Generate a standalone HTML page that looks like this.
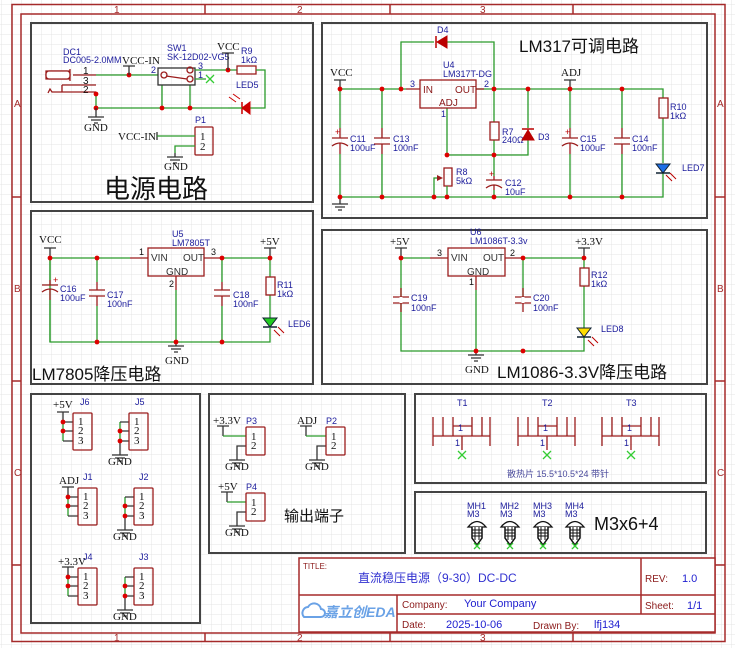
<!DOCTYPE html>
<html><head><meta charset="utf-8"><style>
html,body{margin:0;padding:0;background:#fff}
svg{display:block}
.w{stroke:#2a9a2a;stroke-width:1.3;fill:none}
.r{stroke:#9b1c1c;stroke-width:1.3;fill:none}
.k{stroke:#333;stroke-width:1.3;fill:none}
.p{stroke:#444;stroke-width:2;fill:none}
.f{stroke:#a52a2a;stroke-width:1.5;fill:none}
.b{font-family:"Liberation Sans",sans-serif;font-size:9px;fill:#1c1c9c}
.n{font-family:"Liberation Serif",serif;font-size:11px;fill:#111}
.d{font-family:"Liberation Sans",sans-serif;font-size:10px;fill:#8b1a1a}
.t{font-family:"Liberation Sans","Noto Sans CJK SC",sans-serif;fill:#111}
.x{stroke:#3c3;stroke-width:1.3}
</style></head><body>
<svg width="735" height="648" viewBox="0 0 735 648" xmlns="http://www.w3.org/2000/svg">
<defs>
<pattern id="g" width="10" height="10" patternUnits="userSpaceOnUse" x="1" y="4">
<path d="M10 0H0V10" fill="none" stroke="#e4e4e4" stroke-width="1"/></pattern>
<g id="gnd"><path d="M0 0V4M-8 4H8M-5 7H5M-2 10H2" stroke="#333" stroke-width="1.3"/></g>
<g id="jn"><circle r="2.4" fill="#d00"/></g>
</defs>
<rect width="735" height="648" fill="url(#g)"/>
<!-- frame -->
<rect x="12" y="4.5" width="713" height="637" class="f"/>
<rect x="21" y="14" width="694" height="619" class="f"/>
<path class="f" d="M205 4.5V14M390 4.5V14M573 4.5V14M205 633V642M390 633V642M573 633V642M12 197H21M12 381H21M12 565H21M715 197H725M715 381H725M715 565H725"/>
<g font-family="Liberation Sans,sans-serif" font-size="10" fill="#a52a2a">
<text x="114" y="13">1</text><text x="297" y="13">2</text><text x="480" y="13">3</text>
<text x="114" y="641">1</text><text x="297" y="641">2</text><text x="480" y="641">3</text>
<text x="14" y="107">A</text><text x="14" y="292">B</text><text x="14" y="476">C</text>
<text x="717" y="107">A</text><text x="717" y="292">B</text><text x="717" y="476">C</text>
</g>
<!-- panels -->
<rect class="p" x="31" y="23" width="282" height="179"/>
<rect class="p" x="322" y="23" width="385" height="195"/>
<rect class="p" x="31" y="211" width="282" height="173"/>
<rect class="p" x="322" y="230" width="385" height="154"/>
<rect class="p" x="31" y="394" width="169" height="229"/>
<rect class="p" x="209" y="394" width="196" height="159"/>
<rect class="p" x="415" y="394" width="291" height="89"/>
<rect class="p" x="415" y="492" width="291" height="61"/>

<!-- ===== Panel 1 power ===== -->
<text class="b" x="63" y="55">DC1</text><text class="b" x="63" y="63">DC005-2.0MM</text>
<path class="r" d="M46 71H70V79H46Z M70 69V81 M73 75H96 M48 93L50 89L52 92H96 M62 85H96 M62 85V92"/>
<rect x="46" y="71" width="24" height="8" fill="#fff" stroke="#9b1c1c" stroke-width="1.3" rx="3"/>
<text class="d" x="83" y="74" fill="#111" style="fill:#111">1</text><text class="d" x="83" y="84" style="fill:#111">3</text><text class="d" x="83" y="93" style="fill:#111">2</text>
<path class="w" d="M96 75H158 M96 92V108H228 M162 85V108 M190 85V108"/>
<use href="#jn" x="96" y="94"/><use href="#jn" x="96" y="108"/><use href="#jn" x="129" y="75"/><use href="#jn" x="162" y="108"/><use href="#jn" x="190" y="108"/>
<path class="k" d="M96 108V113"/><use href="#gnd" x="96" y="113"/><text class="n" x="84" y="131">GND</text>
<path class="k" d="M123 66H135M129 66V75"/><text class="n" x="122" y="64">VCC-IN</text>
<text class="b" x="167" y="51">SW1</text><text class="b" x="167" y="60">SK-12D02-VG5</text>
<rect x="158" y="68" width="37" height="17" class="r" style="stroke:#333"/>
<circle cx="164" cy="75" r="3" class="r"/><circle cx="190" cy="70" r="3" class="r"/><circle cx="190" cy="79" r="3" class="r"/>
<path class="r" d="M166 76L187 79"/>
<text class="b" x="151" y="73" font-size="7">2</text><text class="b" x="198" y="69" font-size="7">3</text><text class="b" x="198" y="78" font-size="7">1</text>
<path class="w" d="M195 70H237 M195 79H206"/><path class="x" d="M206 75L214 83M214 75L206 83"/>
<use href="#jn" x="228" y="70"/>
<path class="k" d="M222 53H234M228 53V70"/><text class="n" x="217" y="50">VCC</text>
<rect x="237" y="66" width="19" height="8" class="r"/><text class="b" x="241" y="54">R9</text><text class="b" x="241" y="63">1kΩ</text>
<path class="w" d="M256 70H265V108H250"/>
<path d="M250 102V114L242 108Z" fill="#c00" stroke="#c00"/><path d="M242 102V114" stroke="#c00" stroke-width="1.5"/>
<path class="w" d="M228 108H242"/>
<text class="b" x="236" y="88">LED5</text>
<path d="M240 99L233 94M236 102L229 97" stroke="#c00" stroke-width="1"/>
<text class="b" x="195" y="123">P1</text>
<rect x="195" y="127" width="18" height="28" class="r" rx="1"/>
<text class="n" x="200" y="140" font-size="10">1</text><text class="n" x="200" y="150" font-size="10">2</text>
<text class="n" x="118" y="140">VCC-IN</text><path class="k" d="M157 132V140"/><path class="w" d="M157 136H195 M195 146H175V153"/>
<use href="#gnd" x="175" y="153"/><text class="n" x="164" y="170">GND</text>
<text class="t" x="104" y="198" font-size="26">电源电路</text>

<!-- ===== Panel 2 LM317 ===== -->
<text class="t" x="519" y="52" font-size="17">LM317可调电路</text>
<text class="b" x="437" y="33">D4</text>
<path class="w" d="M401 89V42H434 M447 42H494V89"/>
<path d="M447 36V48L437 42Z" fill="#b00" stroke="#b00"/><path d="M436 36V48" stroke="#b00" stroke-width="1.5"/>
<path class="w" d="M340 89H406 M476 89H663V98 M447 108V155H528V134 M528 89V128 M494 89V122 M494 140V176 M494 190V197 M340 197H663V173 M663 118V163"/>
<path class="r" d="M406 89H420 M476 89H484"/>
<rect x="420" y="80" width="56" height="28" class="r"/>
<text class="d" x="423" y="93">IN</text><text class="d" x="455" y="93">OUT</text><text class="d" x="439" y="106">ADJ</text>
<text class="b" x="410" y="87">3</text><text class="b" x="484" y="87">2</text><text class="b" x="441" y="117">1</text>
<text class="b" x="443" y="68">U4</text><text class="b" x="443" y="77">LM317T-DG</text>
<path class="k" d="M334 80H346M340 80V89"/><text class="n" x="330" y="76">VCC</text>
<path class="k" d="M564 80H576M570 80V89"/><text class="n" x="561" y="76">ADJ</text>
<rect x="490" y="122" width="9" height="18" class="r"/><text class="b" x="502" y="135">R7</text><text class="b" x="502" y="143">240Ω</text>
<path d="M522 140H534L528 130Z" fill="#b00" stroke="#b00"/><path d="M522 129H534" stroke="#b00" stroke-width="1.5"/>
<text class="b" x="538" y="140">D3</text>
<rect x="444" y="168" width="8" height="18" class="r"/>
<path class="w" d="M434 197V178H438"/><path d="M437 175L443 178L437 181Z" fill="#9b1c1c"/>
<text class="b" x="456" y="175">R8</text><text class="b" x="456" y="184">5kΩ</text>
<path class="w" d="M447 186V197"/>
<!-- caps in LM317 -->
<path class="w" d="M340 89V128M340 154V197M382 89V128M382 154V197M570 89V128M570 154V197M622 89V128M622 154V197"/>
<path class="r" d="M340 128V138M332 138H348M332 146Q340 140 348 146M340 143V154 M382 128V138M374 138H390M374 144H390M382 144V154 M570 128V138M562 138H578M562 146Q570 140 578 146M570 143V154 M622 128V138M614 138H630M614 144H630M622 144V154 M494 176V180M486 180H502M486 188Q494 182 502 188M494 185V190"/>
<text class="b" x="335" y="135" style="fill:#b00">+</text><text class="b" x="565" y="135" style="fill:#b00">+</text><text class="b" x="489" y="177" style="fill:#b00">+</text>
<text class="b" x="350" y="142">C11</text><text class="b" x="350" y="151">100uF</text>
<text class="b" x="393" y="142">C13</text><text class="b" x="393" y="151">100nF</text>
<text class="b" x="580" y="142">C15</text><text class="b" x="580" y="151">100uF</text>
<text class="b" x="632" y="142">C14</text><text class="b" x="632" y="151">100nF</text>
<text class="b" x="505" y="186">C12</text><text class="b" x="505" y="195">10uF</text>
<rect x="659" y="98" width="9" height="20" class="r"/><text class="b" x="670" y="110">R10</text><text class="b" x="670" y="119">1kΩ</text>
<path d="M656 164H670L663 173Z" fill="#1e6ee6" stroke="#123"/><path d="M656 173H670" stroke="#123" stroke-width="1.5"/>
<path d="M666 175L672 181M670 173L676 179" stroke="#b00" stroke-width="1"/>
<text class="b" x="682" y="171">LED7</text>
<use href="#gnd" x="340" y="200"/><path class="k" d="M340 197V200"/>
<g><use href="#jn" x="340" y="89"/><use href="#jn" x="382" y="89"/><use href="#jn" x="401" y="89"/><use href="#jn" x="494" y="89"/><use href="#jn" x="528" y="89"/><use href="#jn" x="570" y="89"/><use href="#jn" x="622" y="89"/>
<use href="#jn" x="447" y="155"/><use href="#jn" x="494" y="155"/>
<use href="#jn" x="340" y="197"/><use href="#jn" x="382" y="197"/><use href="#jn" x="434" y="197"/><use href="#jn" x="447" y="197"/><use href="#jn" x="494" y="197"/><use href="#jn" x="570" y="197"/><use href="#jn" x="622" y="197"/></g>

<!-- ===== Panel 3 LM7805 ===== -->
<path class="k" d="M44 248H56M50 248V258"/><text class="n" x="39" y="243">VCC</text>
<path class="w" d="M50 258H130 M222 258H270V277 M270 295V318 M270 328V342H50V258 M97 258V282 M97 306V342 M222 258V282 M222 306V342 M176 290V342"/>
<path class="r" d="M130 258H148 M204 258H222 M176 276V290"/>
<rect x="148" y="248" width="56" height="28" class="r"/>
<text class="d" x="151" y="261" style="fill:#333">VIN</text><text class="d" x="183" y="261" style="fill:#333">OUT</text><text class="d" x="166" y="275" style="fill:#333">GND</text>
<text class="b" x="139" y="255" style="fill:#111">1</text><text class="b" x="211" y="255" style="fill:#111">3</text><text class="b" x="169" y="287" style="fill:#111">2</text>
<text class="b" x="172" y="237">U5</text><text class="b" x="172" y="246">LM7805T</text>
<path class="k" d="M264 248H276M270 248V258"/><text class="n" x="260" y="245">+5V</text>
<path class="w" style="stroke:#fff;stroke-width:0" d=""/>
<rect x="50" y="274" width="0" height="0"/>
<path class="w" d="M50 258V280M50 300V342" />
<path class="r" d="M42 285H58M42 292Q50 286 58 292 M50 280V285M50 289V300 M89 290H105M89 296H105M97 282V290M97 296V306 M214 290H230M214 296H230M222 282V290M222 296V306"/>
<text class="b" x="53" y="283" style="fill:#b00">+</text>
<text class="b" x="60" y="292">C16</text><text class="b" x="60" y="301">100uF</text>
<text class="b" x="107" y="298">C17</text><text class="b" x="107" y="307">100nF</text>
<text class="b" x="233" y="298">C18</text><text class="b" x="233" y="307">100nF</text>
<rect x="266" y="277" width="9" height="18" class="r"/><text class="b" x="277" y="288">R11</text><text class="b" x="277" y="297">1kΩ</text>
<path d="M263 318H277L270 327Z" fill="#2c2" stroke="#123"/><path d="M263 327H277" stroke="#123" stroke-width="1.5"/>
<path d="M274 330L280 336M278 327L284 333" stroke="#b00" stroke-width="1"/>
<text class="b" x="288" y="327">LED6</text>
<use href="#gnd" x="176" y="342"/><text class="n" x="165" y="364">GND</text>
<use href="#jn" x="50" y="258"/><use href="#jn" x="97" y="258"/><use href="#jn" x="222" y="258"/><use href="#jn" x="270" y="258"/>
<use href="#jn" x="97" y="342"/><use href="#jn" x="176" y="342"/><use href="#jn" x="222" y="342"/>
<text class="t" x="32" y="380" font-size="17">LM7805降压电路</text>

<!-- ===== Panel 4 LM1086 ===== -->
<path class="k" d="M395 248H407M401 248V258"/><text class="n" x="390" y="245">+5V</text>
<path class="w" d="M401 258H430 M523 258H584V268 M584 286V328 M584 337V351H401V258 M523 258V300 M476 290V351"/>
<path class="r" d="M430 258H448 M505 258H523 M476 276V290 M393 297H409M393 303H409 M515 297H531M515 303H531"/>
<path d="M401 297V303M523 297V303" stroke="#fff" stroke-width="3"/>
<path class="r" d="M401 288V297M401 303V312M523 288V297M523 303V312"/>
<rect x="448" y="248" width="57" height="28" class="r"/>
<text class="d" x="451" y="261" style="fill:#333">VIN</text><text class="d" x="483" y="261" style="fill:#333">OUT</text><text class="d" x="467" y="275" style="fill:#333">GND</text>
<text class="b" x="437" y="256" style="fill:#111">3</text><text class="b" x="510" y="256" style="fill:#111">2</text><text class="b" x="469" y="285" style="fill:#111">1</text>
<text class="b" x="470" y="235">U6</text><text class="b" x="470" y="244">LM1086T-3.3v</text>
<path class="k" d="M578 248H590M584 248V258"/><text class="n" x="575" y="245">+3.3V</text>
<text class="b" x="411" y="301">C19</text><text class="b" x="411" y="311">100nF</text>
<text class="b" x="533" y="301">C20</text><text class="b" x="533" y="311">100nF</text>
<rect x="580" y="268" width="9" height="18" class="r"/><text class="b" x="591" y="278">R12</text><text class="b" x="591" y="287">1kΩ</text>
<path d="M577 328H591L584 337Z" fill="#fd0" stroke="#123"/><path d="M577 337H591" stroke="#123" stroke-width="1.5"/>
<path d="M588 340L594 346M592 337L598 343" stroke="#b00" stroke-width="1"/>
<text class="b" x="601" y="332">LED8</text>
<use href="#gnd" x="476" y="351"/><text class="n" x="465" y="373">GND</text>
<use href="#jn" x="401" y="258"/><use href="#jn" x="523" y="258"/><use href="#jn" x="584" y="258"/>
<use href="#jn" x="476" y="351"/><use href="#jn" x="523" y="351"/>
<text class="t" x="497" y="378" font-size="17">LM1086-3.3V降压电路</text>

<!-- ===== Panel 5 connectors ===== -->
<g>
<text class="n" x="53" y="408">+5V</text><text class="b" x="80" y="405">J6</text>
<path class="k" d="M57 412H69M63 412V422"/><path class="w" d="M63 422V441"/><path class="k" d="M63 422H73M63 431H73M63 441H73"/>
<rect x="73" y="413" width="19" height="37" class="r" rx="1"/>
<text class="n" x="78" y="425" font-size="10">1</text><text class="n" x="78" y="434" font-size="10">2</text><text class="n" x="78" y="444" font-size="10">3</text>
<use href="#jn" x="63" y="422"/><use href="#jn" x="63" y="431"/>

<text class="b" x="135" y="405">J5</text>
<path class="w" d="M120 422V441"/><path class="k" d="M120 422H129M120 431H129M120 441H129M120 441V451"/>
<rect x="129" y="413" width="19" height="37" class="r" rx="1"/>
<text class="n" x="134" y="425" font-size="10">1</text><text class="n" x="134" y="434" font-size="10">2</text><text class="n" x="134" y="444" font-size="10">3</text>
<use href="#jn" x="120" y="431"/><use href="#jn" x="120" y="441"/><use href="#gnd" x="120" y="451"/><text class="n" x="108" y="465">GND</text>

<text class="n" x="59" y="484">ADJ</text><text class="b" x="83" y="480">J1</text>
<path class="k" d="M62 487H74M68 487V497"/><path class="w" d="M68 497V516"/><path class="k" d="M68 497H78M68 506H78M68 516H78"/>
<rect x="78" y="488" width="19" height="37" class="r" rx="1"/>
<text class="n" x="83" y="500" font-size="10">1</text><text class="n" x="83" y="509" font-size="10">2</text><text class="n" x="83" y="519" font-size="10">3</text>
<use href="#jn" x="68" y="497"/><use href="#jn" x="68" y="506"/>

<text class="b" x="139" y="480">J2</text>
<path class="w" d="M125 497V516"/><path class="k" d="M125 497H134M125 506H134M125 516H134M125 516V526"/>
<rect x="134" y="488" width="19" height="37" class="r" rx="1"/>
<text class="n" x="139" y="500" font-size="10">1</text><text class="n" x="139" y="509" font-size="10">2</text><text class="n" x="139" y="519" font-size="10">3</text>
<use href="#jn" x="125" y="506"/><use href="#jn" x="125" y="516"/><use href="#gnd" x="125" y="526"/><text class="n" x="113" y="540">GND</text>

<text class="b" x="83" y="560">J4</text><text class="n" x="58" y="565">+3.3V</text>
<path class="k" d="M62 567H74M68 567V577"/><path class="w" d="M68 577V596"/><path class="k" d="M68 577H78M68 586H78M68 596H78"/>
<rect x="78" y="568" width="19" height="37" class="r" rx="1"/>
<text class="n" x="83" y="580" font-size="10">1</text><text class="n" x="83" y="589" font-size="10">2</text><text class="n" x="83" y="599" font-size="10">3</text>
<use href="#jn" x="68" y="577"/><use href="#jn" x="68" y="586"/>

<text class="b" x="139" y="560">J3</text>
<path class="w" d="M125 577V596"/><path class="k" d="M125 577H134M125 586H134M125 596H134M125 596V606"/>
<rect x="134" y="568" width="19" height="37" class="r" rx="1"/>
<text class="n" x="139" y="580" font-size="10">1</text><text class="n" x="139" y="589" font-size="10">2</text><text class="n" x="139" y="599" font-size="10">3</text>
<use href="#jn" x="125" y="586"/><use href="#jn" x="125" y="596"/><use href="#gnd" x="125" y="606"/><text class="n" x="113" y="620">GND</text>
</g>

<!-- ===== Panel 6 outputs ===== -->
<text class="n" x="213" y="424">+3.3V</text><text class="b" x="246" y="424">P3</text>
<path class="k" d="M217 426H229M223 426V436"/><path class="w" d="M223 436H246"/><path class="k" d="M246 446H237V456"/>
<rect x="246" y="427" width="19" height="28" class="r" rx="1"/>
<text class="n" x="251" y="440" font-size="10">1</text><text class="n" x="251" y="449" font-size="10">2</text>
<use href="#gnd" x="237" y="456"/><text class="n" x="225" y="470">GND</text>

<text class="n" x="218" y="490">+5V</text><text class="b" x="246" y="490">P4</text>
<path class="k" d="M221 492H233M227 492V502"/><path class="w" d="M227 502H246"/><path class="k" d="M246 512H237V522"/>
<rect x="246" y="493" width="19" height="28" class="r" rx="1"/>
<text class="n" x="251" y="506" font-size="10">1</text><text class="n" x="251" y="515" font-size="10">2</text>
<use href="#gnd" x="237" y="522"/><text class="n" x="225" y="536">GND</text>

<text class="n" x="297" y="424">ADJ</text><text class="b" x="326" y="424">P2</text>
<path class="k" d="M300 426H312M306 426V436"/><path class="w" d="M306 436H326"/><path class="k" d="M326 446H317V456"/>
<rect x="326" y="427" width="19" height="28" class="r" rx="1"/>
<text class="n" x="331" y="440" font-size="10">1</text><text class="n" x="331" y="449" font-size="10">2</text>
<use href="#gnd" x="317" y="456"/><text class="n" x="305" y="470">GND</text>
<text class="t" x="284" y="521" font-size="15">输出端子</text>

<!-- ===== Panel 7 heatsinks ===== -->
<g id="hs">
<path class="r" d="M433 417V446M490 417V446M443 417V436M453 417V436M472 417V436M482 417V436M433 436H490M453 426H472M462 436V450"/>
<path class="x" d="M458 451L466 459M466 451L458 459"/>
<text class="b" x="458" y="431" font-size="7">1</text><text class="b" x="455" y="446" font-size="7">1</text>
</g>
<use href="#hs" x="85"/><use href="#hs" x="169"/>
<text class="b" x="457" y="406">T1</text><text class="b" x="542" y="406">T2</text><text class="b" x="626" y="406">T3</text>
<text class="b" x="507" y="477" style="fill:#4a4a9c" font-family="Liberation Sans,Noto Sans CJK SC,sans-serif">散热片 15.5*10.5*24 带针</text>

<!-- ===== Panel 8 screws ===== -->
<g id="sc">
<path d="M468 527Q477 516 486 527Z" fill="#fff" stroke="#111" stroke-width="1.3"/>
<path d="M472 527V538L477 545L482 538V527" fill="#fff" stroke="#111" stroke-width="1.5"/>
<path d="M472 530H482M472 533H482M472 536H482M475 527V540M479 527V540" stroke="#111" stroke-width="1"/>
<path class="x" d="M474 543L480 549M480 543L474 549"/>
</g>
<use href="#sc" x="33"/><use href="#sc" x="66"/><use href="#sc" x="98"/>
<text class="b" x="467" y="509">MH1</text><text class="b" x="467" y="517">M3</text>
<text class="b" x="500" y="509">MH2</text><text class="b" x="500" y="517">M3</text>
<text class="b" x="533" y="509">MH3</text><text class="b" x="533" y="517">M3</text>
<text class="b" x="565" y="509">MH4</text><text class="b" x="565" y="517">M3</text>
<text class="t" x="594" y="530" font-size="18">M3x6+4</text>

<!-- ===== title block ===== -->
<rect x="299" y="558" width="416" height="74" class="f" fill="#fff" style="fill:#fff"/>
<path class="f" d="M299 595H715M397 614H715M397 595V632M641 558V614"/>
<g font-family="Liberation Sans,Noto Sans CJK SC,sans-serif">
<text x="303" y="569" font-size="8" fill="#8b1a1a">TITLE:</text>
<text x="358" y="582" font-size="12" fill="#3030d0">直流稳压电源（9-30）DC-DC</text>
<text x="645" y="582" font-size="10" fill="#8b1a1a">REV:</text><text x="682" y="582" font-size="11" fill="#2020d0">1.0</text>
<text x="402" y="608" font-size="10" fill="#8b1a1a">Company:</text><text x="464" y="607" font-size="11" fill="#2020d0">Your Company</text>
<text x="645" y="609" font-size="10" fill="#8b1a1a">Sheet:</text><text x="687" y="609" font-size="11" fill="#2020d0">1/1</text>
<text x="402" y="628" font-size="10" fill="#8b1a1a">Date:</text><text x="446" y="628" font-size="11" fill="#2020d0">2025-10-06</text>
<text x="533" y="629" font-size="10" fill="#8b1a1a">Drawn By:</text><text x="594" y="628" font-size="11" fill="#2020d0">lfj134</text>
<text x="324" y="617" font-size="14" font-weight="bold" font-style="italic" fill="#6aa2e6">嘉立创EDA</text>
</g>
<path d="M304 617a6 6 0 0 1 4-10a7 7 0 0 1 13 2a4 4 0 0 1 0 8z" fill="none" stroke="#6aa2e6" stroke-width="2"/>
</svg>
</body></html>
